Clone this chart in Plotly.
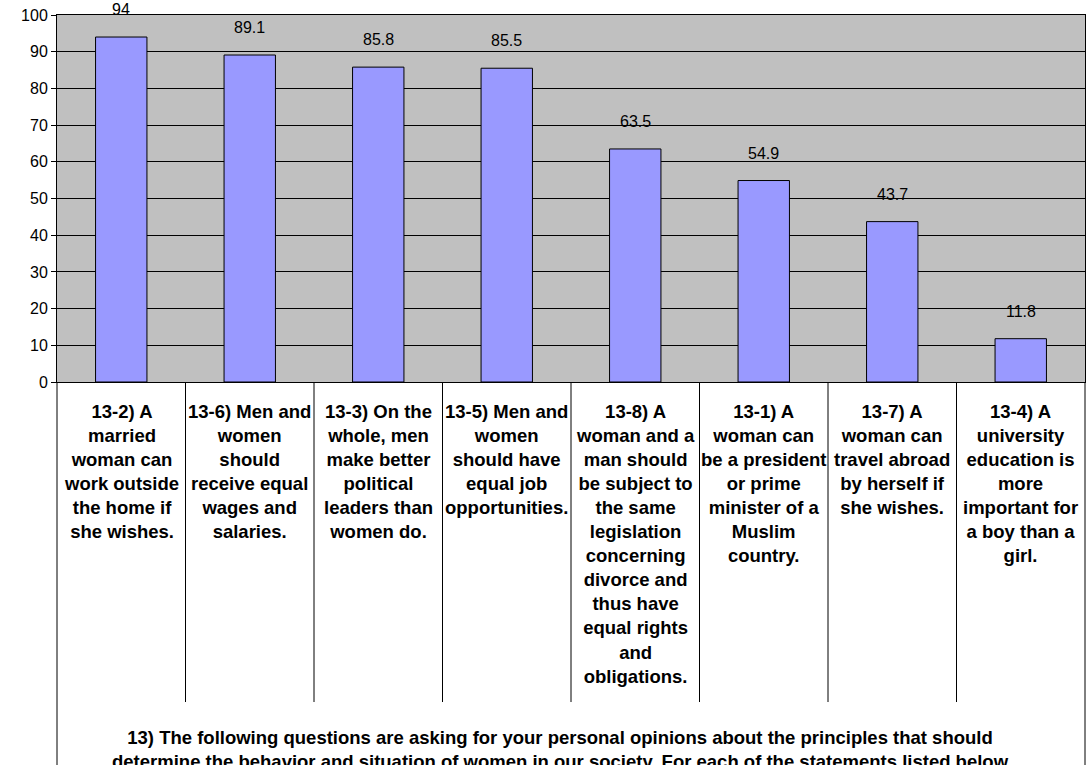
import plotly.graph_objects as go

# Data
categories = [
    "13-2) A<br>married<br>woman can<br>work outside<br>the home if<br>she wishes.",
    "13-6) Men and<br>women<br>should<br>receive equal<br>wages and<br>salaries.",
    "13-3) On the<br>whole, men<br>make better<br>political<br>leaders than<br>women do.",
    "13-5) Men and<br>women<br>should have<br>equal job<br>opportunities.",
    "13-8) A<br>woman and a<br>man should<br>be subject to<br>the same<br>legislation<br>concerning<br>divorce and<br>thus have<br>equal rights<br>and<br>obligations.",
    "13-1) A<br>woman can<br>be a president<br>or prime<br>minister of a<br>Muslim<br>country.",
    "13-7) A<br>woman can<br>travel abroad<br>by herself if<br>she wishes.",
    "13-4) A<br>university<br>education is<br>more<br>important for<br>a boy than a<br>girl.",
]
values = [94, 89.1, 85.8, 85.5, 63.5, 54.9, 43.7, 11.8]
value_labels = ["94", "89.1", "85.8", "85.5", "63.5", "54.9", "43.7", "11.8"]
footer_text = ("13) The following questions are asking for your personal opinions about the principles that should<br>"
               "determine the behavior and situation of women in our society. For each of the statements listed below")

n = len(categories)
fig = go.Figure()

fig.add_trace(go.Bar(
    x=list(range(n)),
    y=values,
    width=0.4,
    marker=dict(color='#9999FF', line=dict(color='black', width=1)),
    showlegend=False,
    hoverinfo='skip'
))

# value labels above bars
for i, v in enumerate(values):
    fig.add_annotation(x=i, y=v, xref='x', yref='y', text=value_labels[i],
                       showarrow=False, yanchor='bottom', yshift=17,
                       font=dict(size=16, color='black', family='Liberation Sans, Arial'))

# category table below the plot
for i, c in enumerate(categories):
    fig.add_annotation(x=(i + 0.5) / n, y=-0.045, xref='paper', yref='paper', text=c,
                       showarrow=False, yanchor='top', xanchor='center', align='center',
                       font=dict(size=18.5, color='black', family='Liberation Sans, Arial', weight='bold'))

for k in range(1, n):
    fig.add_shape(type='line', xref='paper', yref='paper', x0=k / n, x1=k / n, y0=0, y1=-0.872,
                  line=dict(color='black', width=1))
for xb in [0, 1]:
    fig.add_shape(type='line', xref='paper', yref='paper', x0=xb, x1=xb, y0=0, y1=-1.2,
                  line=dict(color='black', width=1))

fig.add_annotation(x=0.49, y=-0.935, xref='paper', yref='paper', text=footer_text,
                   showarrow=False, yanchor='top', xanchor='center', align='center',
                   font=dict(size=18.5, color='black', family='Liberation Sans, Arial', weight='bold'))

fig.update_xaxes(range=[-0.5, n - 0.5], showticklabels=False, showgrid=False,
                 showline=True, linecolor='black', linewidth=1, mirror=True, ticks='', zeroline=False)
fig.update_yaxes(range=[0, 100], dtick=10, showgrid=True, gridcolor='black', gridwidth=1,
                 showline=True, linecolor='black', linewidth=1, mirror=True,
                 ticks='outside', ticklen=5, tickcolor='black', zeroline=False,
                 tickfont=dict(size=16, color='black', family='Liberation Sans, Arial'))

fig.update_layout(
    width=1092, height=765,
    margin=dict(l=57, r=7, t=15, b=383),
    plot_bgcolor='#C0C0C0',
    paper_bgcolor='white',
    bargap=0.6,
)

# drop the default 8px body margin so the figure sits at the page corner
fig.write_html("out.html", config={'displayModeBar': False},
               post_script="document.body.style.margin='0';")
